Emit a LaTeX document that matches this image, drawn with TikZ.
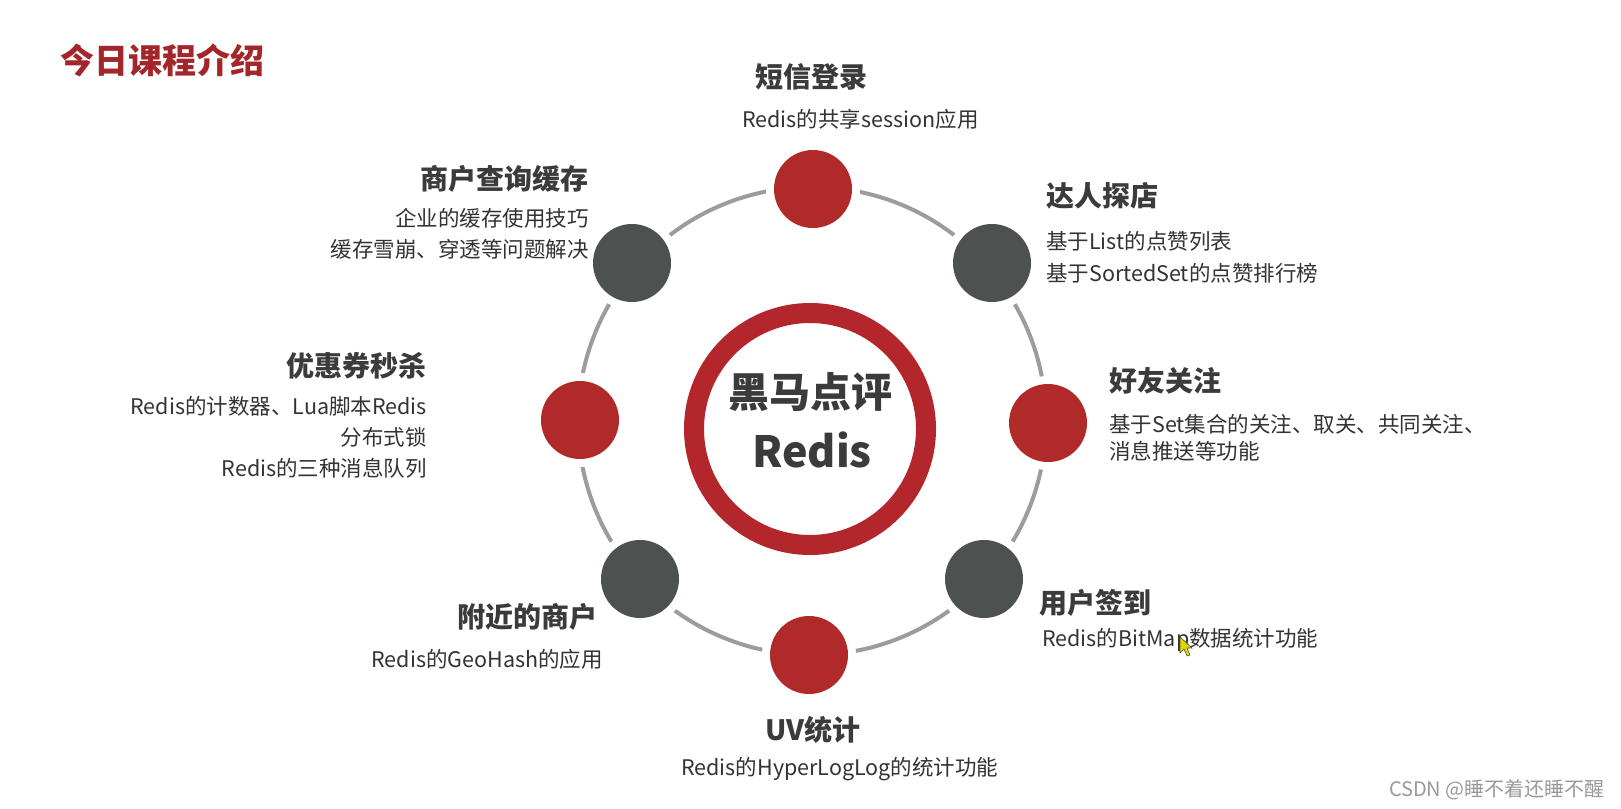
\documentclass[tikz,border=0pt]{standalone}
\usepackage{fontspec}
\setmainfont{Noto Sans CJK SC}
\definecolor{cRed}{HTML}{B02A2A}
\definecolor{cRing}{HTML}{B3262B}
\definecolor{cDark}{HTML}{4D5150}
\definecolor{cLine}{HTML}{9C9C9C}
\definecolor{cTitle}{HTML}{A3262A}
\definecolor{cHead}{HTML}{3B3B3B}
\definecolor{cBody}{HTML}{333333}
\definecolor{cMark}{HTML}{9A9A9A}
\tikzset{
  head/.style={font=\fontsize{28}{32}\selectfont\bfseries, text=cHead, inner sep=0pt},
  body/.style={font=\fontsize{21.5}{26}\selectfont, text=cBody, inner sep=0pt},
  dotbase/.style={circle, minimum size=78pt, inner sep=0pt, preaction={draw=white, line width=16pt}},
  reddot/.style={dotbase, fill=cRed},
  graydot/.style={dotbase, fill=cDark},
}
\begin{document}
\begin{tikzpicture}[x=1pt,y=-1pt]
\useasboundingbox[fill=white] (0,0) rectangle (1621,808);
% title
\node[anchor=west, inner sep=0pt, text=cTitle, font=\fontsize{34}{38}\selectfont\bfseries] (title) at (60,60) {今日课程介绍};
% ring
\coordinate (c) at (812,421);
\draw[cLine, line width=4pt] (c) circle[radius=234pt];
% small circles
\node[reddot]  (n1) at (813,189) {};
\node[graydot] (n2) at (992,263) {};
\node[reddot]  (n3) at (1048,423) {};
\node[graydot] (n4) at (984,579) {};
\node[reddot]  (n5) at (809,655) {};
\node[graydot] (n6) at (640,579) {};
\node[reddot]  (n7) at (580,420) {};
\node[graydot] (n8) at (632,263) {};
% center
\node[circle, draw=cRing, line width=20pt, minimum size=232pt, inner sep=0pt] (core) at (810,429) {};
\node[inner sep=0pt, text=cHead, font=\fontsize{41}{44}\selectfont\bfseries] (core1) at (810,392) {黑马点评};
\node[inner sep=0pt, text=cHead, font=\fontsize{43}{46}\selectfont\bfseries] (core2) at (812,450) {Redis};
% top
\node[head, anchor=west] (t1) at (755,77) {短信登录};
\node[body, anchor=west] (t1a) at (742,119) {Redis的共享session应用};
% top-left
\node[head, anchor=east] (t8) at (589,179) {商户查询缓存};
\node[body, anchor=east] (t8a) at (589,218) {企业的缓存使用技巧};
\node[body, anchor=east] (t8b) at (589,249) {缓存雪崩、穿透等问题解决};
% top-right
\node[head, anchor=west] (t2) at (1046,196) {达人探店};
\node[body, anchor=west] (t2a) at (1046,241) {基于List的点赞列表};
\node[body, anchor=west] (t2b) at (1046,273) {基于SortedSet的点赞排行榜};
% left
\node[head, anchor=east] (t7) at (427,366) {优惠券秒杀};
\node[body, anchor=east] (t7a) at (427,406) {Redis的计数器、Lua脚本Redis};
\node[body, anchor=east] (t7b) at (427,437) {分布式锁};
\node[body, anchor=east] (t7c) at (427,468) {Redis的三种消息队列};
% right
\node[head, anchor=west] (t3) at (1109,381) {好友关注};
\node[body, anchor=west] (t3a) at (1109,424) {基于Set集合的关注、取关、共同关注、};
\node[body, anchor=west] (t3b) at (1109,451) {消息推送等功能};
% bottom-left
\node[head, anchor=east] (t6) at (598,617) {附近的商户};
\node[body, anchor=east] (t6a) at (603,659) {Redis的GeoHash的应用};
% bottom-right
\node[head, anchor=west] (t4) at (1039,603) {用户签到};
\node[body, anchor=west] (t4a) at (1042,640) {Redis的BitMap数据统计功能};
% bottom
\node[head, anchor=west] (t5) at (765,730) {UV统计};
\node[body, anchor=west] (t5a) at (681,769) {Redis的HyperLogLog的统计功能};
% mouse cursor
\fill[yellow!75!olive, draw=black!70, line width=0.6pt] (1180,637) -- (1180,653) -- (1184,649) -- (1187,656) -- (1190,655) -- (1187,648) -- (1192,648) -- cycle;
% watermark
\node[anchor=east, inner sep=0pt, text=cMark, font=\fontsize{20}{22}\selectfont] (wm) at (1605,790) {CSDN @睡不着还睡不醒};
\end{tikzpicture}
\end{document}
